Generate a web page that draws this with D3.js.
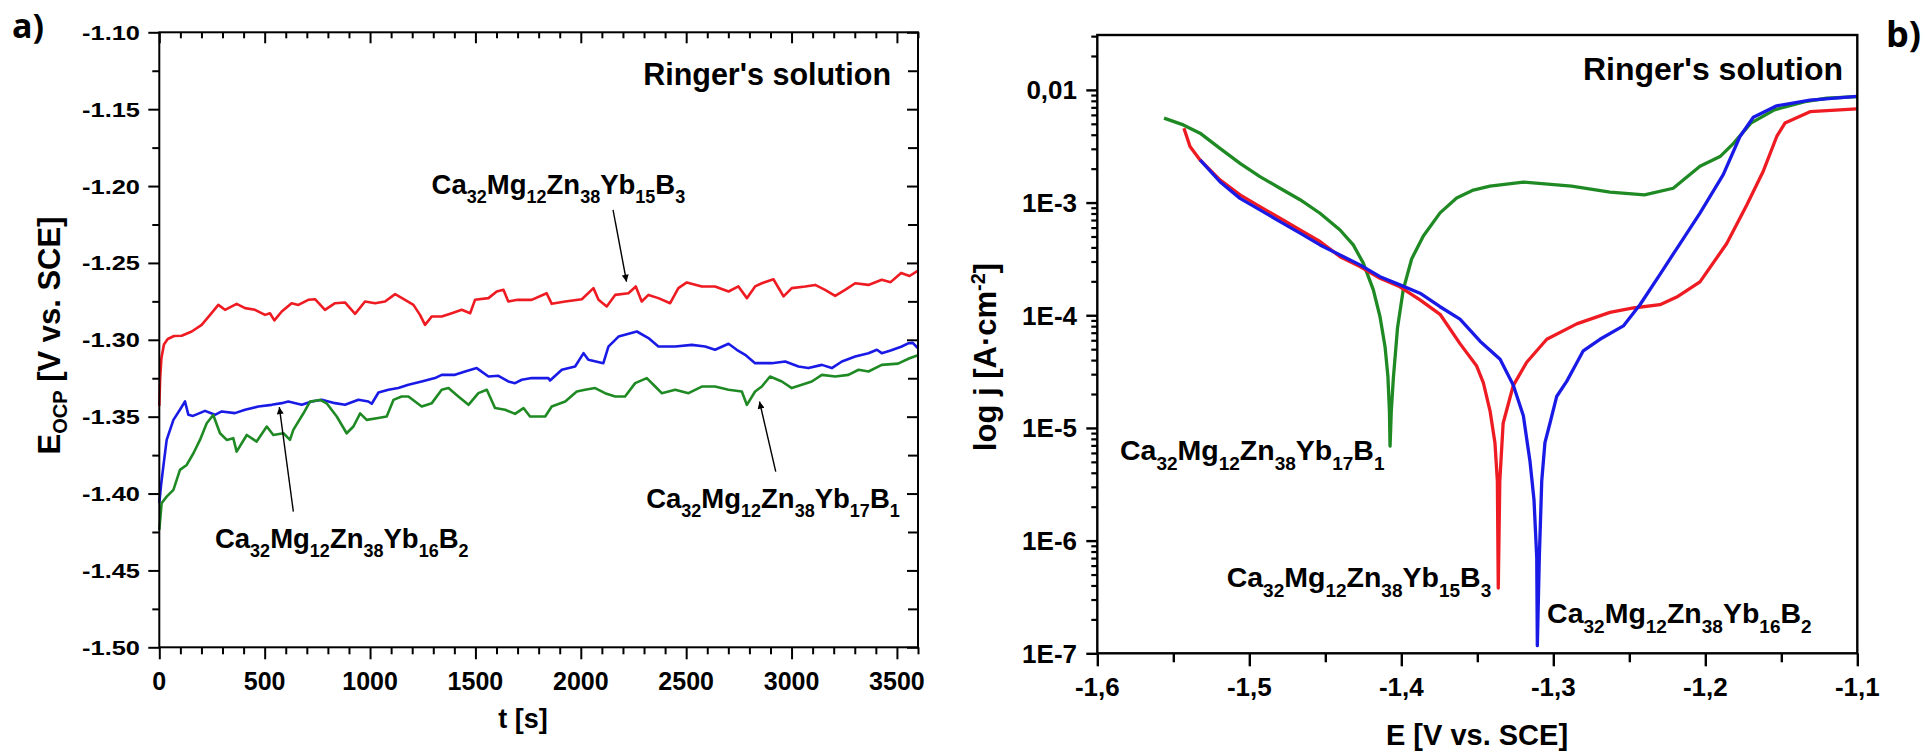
<!DOCTYPE html>
<html><head><meta charset="utf-8">
<script src="https://cdn.jsdelivr.net/npm/d3@7"></script>
<style>
body{margin:0;background:#fff;}
svg text{font-family:"Liberation Sans",Arial,sans-serif;font-weight:bold;fill:#000;}
</style></head><body>
<svg id="c" width="1931" height="752"></svg>
<script>
// ---------- Panel a: open circuit potential vs time ----------
const ocpB3 = [[0,-1.343],[4,-1.325],[10,-1.312],[22,-1.303],[40,-1.2995],[70,-1.2975],[106,-1.2974],[154,-1.2946],[201,-1.2903],[241,-1.2838],[280,-1.2773],[312,-1.2805],[367,-1.2766],[407,-1.2794],[454,-1.2805],[502,-1.2838],[525,-1.2827],[546,-1.2874],[581,-1.2816],[628,-1.2762],[660,-1.2773],[707,-1.2740],[739,-1.2736],[786,-1.2805],[834,-1.2762],[881,-1.2757],[929,-1.2831],[976,-1.2751],[1024,-1.2762],[1071,-1.2751],[1119,-1.2703],[1166,-1.2740],[1206,-1.2773],[1237,-1.2838],[1261,-1.2903],[1293,-1.2848],[1340,-1.2848],[1388,-1.2827],[1435,-1.2805],[1475,-1.2827],[1498,-1.2740],[1562,-1.2729],[1601,-1.2686],[1633,-1.2675],[1656,-1.2751],[1700,-1.2740],[1767,-1.2740],[1838,-1.2697],[1862,-1.2766],[1926,-1.2751],[2005,-1.2736],[2060,-1.2664],[2084,-1.2740],[2123,-1.2783],[2163,-1.2708],[2226,-1.2697],[2261,-1.2653],[2289,-1.2751],[2321,-1.2708],[2368,-1.2729],[2424,-1.2762],[2463,-1.2664],[2503,-1.2627],[2574,-1.2653],[2637,-1.2653],[2701,-1.2686],[2748,-1.2653],[2788,-1.2729],[2827,-1.2653],[2859,-1.2632],[2914,-1.2606],[2962,-1.2718],[3001,-1.2664],[3065,-1.2653],[3112,-1.2643],[3159,-1.2675],[3207,-1.2714],[3254,-1.2675],[3302,-1.2632],[3365,-1.2643],[3428,-1.2610],[3470,-1.2625],[3520,-1.2565],[3560,-1.2585],[3600,-1.2550]];
const ocpB2 = [[0,-1.4063],[8,-1.395],[19,-1.3825],[35,-1.3651],[67,-1.3521],[100,-1.345],[122,-1.3401],[138,-1.3488],[160,-1.3495],[217,-1.3462],[264,-1.3488],[296,-1.3466],[359,-1.3477],[407,-1.3455],[470,-1.3434],[533,-1.3423],[581,-1.3412],[612,-1.3401],[676,-1.3423],[723,-1.3401],[771,-1.3390],[834,-1.3412],[881,-1.3423],[945,-1.3390],[992,-1.3401],[1008,-1.3416],[1040,-1.3343],[1087,-1.3325],[1134,-1.3314],[1182,-1.3293],[1245,-1.3271],[1308,-1.3249],[1340,-1.3228],[1403,-1.3228],[1451,-1.3206],[1506,-1.3184],[1562,-1.3239],[1609,-1.3234],[1656,-1.3271],[1688,-1.3282],[1720,-1.3260],[1767,-1.3249],[1846,-1.3249],[1854,-1.3265],[1910,-1.3195],[1973,-1.3174],[2013,-1.3087],[2036,-1.3130],[2107,-1.3152],[2131,-1.3044],[2179,-1.2979],[2266,-1.2946],[2321,-1.2989],[2368,-1.3044],[2448,-1.3044],[2527,-1.3033],[2590,-1.3044],[2637,-1.3065],[2701,-1.3026],[2740,-1.3065],[2780,-1.3098],[2827,-1.3152],[2906,-1.3152],[2970,-1.3141],[3033,-1.3174],[3080,-1.3184],[3144,-1.3163],[3191,-1.3184],[3239,-1.3141],[3302,-1.3109],[3365,-1.3087],[3405,-1.3065],[3428,-1.3087],[3470,-1.3070],[3520,-1.3045],[3556,-1.3022],[3575,-1.3020],[3600,-1.3055]];
const ocpB1 = [[0,-1.4236],[11,-1.4063],[35,-1.4020],[67,-1.3976],[98,-1.3846],[130,-1.3814],[162,-1.3738],[193,-1.3651],[225,-1.3543],[256,-1.3489],[288,-1.3608],[320,-1.3651],[351,-1.3640],[367,-1.3727],[415,-1.3619],[462,-1.3662],[510,-1.3564],[541,-1.3619],[589,-1.3608],[620,-1.3651],[636,-1.3586],[684,-1.3478],[715,-1.3402],[763,-1.3391],[794,-1.3413],[842,-1.3499],[889,-1.3608],[921,-1.3564],[953,-1.3478],[984,-1.3521],[1032,-1.3510],[1079,-1.3499],[1111,-1.3391],[1150,-1.3369],[1182,-1.3369],[1245,-1.3434],[1293,-1.3412],[1340,-1.3325],[1372,-1.3314],[1419,-1.3369],[1467,-1.3423],[1514,-1.3347],[1554,-1.3325],[1593,-1.3444],[1641,-1.3455],[1688,-1.3482],[1728,-1.3444],[1759,-1.3499],[1831,-1.3499],[1862,-1.3434],[1926,-1.3401],[1981,-1.3336],[2020,-1.3325],[2068,-1.3314],[2115,-1.3347],[2163,-1.3369],[2210,-1.3369],[2258,-1.3282],[2313,-1.3249],[2353,-1.3304],[2384,-1.3347],[2448,-1.3325],[2511,-1.3347],[2574,-1.3304],[2637,-1.3304],[2701,-1.3325],[2764,-1.3336],[2788,-1.3423],[2827,-1.3336],[2859,-1.3304],[2898,-1.3239],[2954,-1.3271],[3001,-1.3314],[3049,-1.3293],[3096,-1.3271],[3144,-1.3228],[3207,-1.3239],[3270,-1.3228],[3318,-1.3195],[3365,-1.3206],[3428,-1.3163],[3505,-1.3155],[3560,-1.3120],[3600,-1.3100]];
const timeTicks = [0,500,1000,1500,2000,2500,3000,3500];
const ocpTicks = [-1.10,-1.15,-1.20,-1.25,-1.30,-1.35,-1.40,-1.45,-1.50];

// ---------- Panel b: polarization curves ----------
const polB1 = [[-1.5561,5.61e-3],[-1.5434,4.89e-3],[-1.5324,4.13e-3],[-1.5193,3.03e-3],[-1.5061,2.23e-3],[-1.4930,1.70e-3],[-1.4798,1.34e-3],[-1.4666,1.06e-3],[-1.4535,8.04e-4],[-1.4403,5.71e-4],[-1.4316,4.21e-4],[-1.4250,2.90e-4],[-1.4184,1.68e-4],[-1.4140,9.7e-5],[-1.4107,5.26e-5],[-1.4088,2.85e-5],[-1.4078,1.4e-5],[-1.4074,6.9e-6],[-1.4066,1.4e-5],[-1.4052,2.8e-5],[-1.4025,7.7e-5],[-1.3987,1.69e-4],[-1.3932,3.16e-4],[-1.3855,5.06e-4],[-1.3745,8.1e-4],[-1.3636,1.10e-3],[-1.3526,1.29e-3],[-1.3417,1.40e-3],[-1.3197,1.52e-3],[-1.2880,1.40e-3],[-1.2627,1.24e-3],[-1.2400,1.17e-3],[-1.2211,1.34e-3],[-1.2035,2.10e-3],[-1.1903,2.56e-3],[-1.1816,3.34e-3],[-1.1700,5.07e-3],[-1.1545,6.65e-3],[-1.1344,7.85e-3],[-1.1201,8.43e-3],[-1.1004,8.71e-3]];
const polB3 = [[-1.5430,4.57e-3],[-1.5390,3.14e-3],[-1.5324,2.39e-3],[-1.5193,1.59e-3],[-1.5061,1.17e-3],[-1.4930,9.20e-4],[-1.4798,7.26e-4],[-1.4666,5.71e-4],[-1.4535,4.51e-4],[-1.4403,3.31e-4],[-1.4272,2.70e-4],[-1.4140,2.13e-4],[-1.4009,1.79e-4],[-1.3877,1.37e-4],[-1.3745,1.02e-4],[-1.3614,5.6e-5],[-1.3504,3.54e-5],[-1.3460,2.51e-5],[-1.3416,1.41e-5],[-1.3384,7.40e-6],[-1.3368,3.39e-6],[-1.3362,3.79e-7],[-1.3352,3.39e-6],[-1.3330,1.10e-5],[-1.3263,2.39e-5],[-1.3175,3.83e-5],[-1.3043,6.12e-5],[-1.2846,8.38e-5],[-1.2627,1.06e-4],[-1.2474,1.16e-4],[-1.2298,1.24e-4],[-1.2188,1.45e-4],[-1.2035,1.98e-4],[-1.1859,4.33e-4],[-1.1728,9.46e-4],[-1.1618,1.91e-3],[-1.1530,3.86e-3],[-1.1476,5.08e-3],[-1.1311,6.41e-3],[-1.1004,6.78e-3]];
const polB2 = [[-1.5324,2.39e-3],[-1.5193,1.53e-3],[-1.5061,1.09e-3],[-1.4930,8.61e-4],[-1.4798,6.78e-4],[-1.4666,5.35e-4],[-1.4535,4.21e-4],[-1.4403,3.43e-4],[-1.4272,2.80e-4],[-1.4140,2.20e-4],[-1.4009,1.86e-4],[-1.3877,1.57e-4],[-1.3745,1.19e-4],[-1.3614,9.23e-5],[-1.3482,5.89e-5],[-1.3350,4.07e-5],[-1.3263,2.39e-5],[-1.3197,1.28e-5],[-1.3153,5.01e-6],[-1.3127,2.30e-6],[-1.3109,7.08e-7],[-1.3105,1.17e-7],[-1.3092,7.08e-7],[-1.3076,3.39e-6],[-1.3055,7.40e-6],[-1.3022,1.10e-5],[-1.2978,1.90e-5],[-1.2912,2.59e-5],[-1.2857,3.54e-5],[-1.2803,4.84e-5],[-1.2693,6.12e-5],[-1.2539,8.04e-5],[-1.2430,1.24e-4],[-1.2298,2.31e-4],[-1.2166,4.33e-4],[-1.2035,8.07e-4],[-1.1882,1.77e-3],[-1.1772,3.86e-3],[-1.1684,5.71e-3],[-1.1530,7.23e-3],[-1.1311,8.11e-3],[-1.1004,8.77e-3]];
const eTicks = [-1.6,-1.5,-1.4,-1.3,-1.2,-1.1];
const eTickLabels = ["-1,6","-1,5","-1,4","-1,3","-1,2","-1,1"];
const jTicks = [1e-7,1e-6,1e-5,1e-4,1e-3,1e-2];
const jTickLabels = ["1E-7","1E-6","1E-5","1E-4","1E-3","0,01"];

const alloyB1 = [["Ca","32"],["Mg","12"],["Zn","38"],["Yb","17"],["B","1"]];
const alloyB2 = [["Ca","32"],["Mg","12"],["Zn","38"],["Yb","16"],["B","2"]];
const alloyB3 = [["Ca","32"],["Mg","12"],["Zn","38"],["Yb","15"],["B","3"]];

const RED="#ee1b22", BLUE="#1a1ae6", GREEN="#1f8a24";

const svg = d3.select("#c");
const defs = svg.append("defs");
defs.append("marker").attr("id","ah").attr("viewBox","0 0 10 10").attr("refX",10).attr("refY",5)
  .attr("markerWidth",11).attr("markerHeight",7).attr("markerUnits","userSpaceOnUse").attr("orient","auto")
  .append("path").attr("d","M0,0L10,5L0,10Z").attr("fill","#000");

function formula(g, x, y, parts, main, sub, shift){
  const t = g.append("text").attr("x",x).attr("y",y).style("font-size",main+"px");
  parts.forEach((p,i)=>{
    t.append("tspan").text(p[0]).style("font-size",main+"px").attr("dy", i>0 ? -shift : 0);
    t.append("tspan").text(p[1]).style("font-size",sub+"px").attr("dy",shift);
  });
  return t;
}

// ======== Panel a ========
const ax = d3.scaleLinear().domain([0,3600]).range([159.3,918]);
const ay = d3.scaleLinear().domain([-1.5,-1.1]).range([647.3,32.3]);
const ga = svg.append("g");
const minorT = d3.range(0,3601,100).filter(v=>v%500!==0);
const minorE = d3.range(0,17).map(i=>-1.125-0.05*i).filter(v=>v>-1.5);
function cleanAxis(g, w){ g.select(".domain").remove(); g.selectAll("line").attr("stroke","#000").attr("stroke-width",w); g.selectAll("text").remove(); }
ga.append("g").attr("transform",`translate(0,${ay(-1.5)})`).call(d3.axisBottom(ax).tickValues(timeTicks).tickSize(12)).call(g=>cleanAxis(g,2));
ga.append("g").attr("transform",`translate(0,${ay(-1.5)})`).call(d3.axisBottom(ax).tickValues(minorT).tickSize(7)).call(g=>cleanAxis(g,2));
ga.append("g").attr("transform",`translate(0,${ay(-1.1)})`).call(d3.axisBottom(ax).tickValues(timeTicks).tickSize(11)).call(g=>cleanAxis(g,2));
ga.append("g").attr("transform",`translate(0,${ay(-1.1)})`).call(d3.axisBottom(ax).tickValues(minorT).tickSize(6)).call(g=>cleanAxis(g,2));
ga.append("g").attr("transform",`translate(${ax(0)},0)`).call(d3.axisLeft(ay).tickValues(ocpTicks).tickSize(11)).call(g=>cleanAxis(g,2));
ga.append("g").attr("transform",`translate(${ax(0)},0)`).call(d3.axisLeft(ay).tickValues(minorE).tickSize(7)).call(g=>cleanAxis(g,2));
ga.append("g").attr("transform",`translate(${ax(3600)},0)`).call(d3.axisLeft(ay).tickValues(ocpTicks).tickSize(11)).call(g=>cleanAxis(g,2));
ga.append("g").attr("transform",`translate(${ax(3600)},0)`).call(d3.axisLeft(ay).tickValues(minorE).tickSize(10)).call(g=>cleanAxis(g,2));

const lineA = d3.line().x(d=>ax(d[0])).y(d=>ay(d[1]));
[[ocpB3,RED],[ocpB2,BLUE],[ocpB1,GREEN]].forEach(([d,c])=>{
  ga.append("path").datum(d).attr("d",lineA).attr("fill","none").attr("stroke",c).attr("stroke-width",2.6).attr("stroke-linejoin","round");
});
ga.append("rect").attr("x",ax(0)).attr("y",ay(-1.1)).attr("width",ax(3600)-ax(0)).attr("height",ay(-1.5)-ay(-1.1))
  .attr("fill","none").attr("stroke","#000").attr("stroke-width",2);

timeTicks.forEach(v=>ga.append("text").attr("x",ax(v)).attr("y",690).attr("text-anchor","middle").style("font-size","25px").text(v));
ocpTicks.forEach(v=>ga.append("g").attr("transform",`translate(140,${ay(v)+7.5}) scale(1.21,1)`)
  .append("text").attr("text-anchor","end").style("font-size","21px").text(v.toFixed(2)));
ga.append("text").attr("x",523).attr("y",727.5).attr("text-anchor","middle").style("font-size","27px").text("t [s]");
const ytA = ga.append("text").attr("transform","translate(60,335.5) rotate(-90)").attr("text-anchor","middle").style("font-size","31px");
ytA.append("tspan").text("E");
ytA.append("tspan").text("OCP").style("font-size","20px").attr("dy",7);
ytA.append("tspan").text(" [V vs. SCE]").attr("dy",-7);
ga.append("text").attr("x",ax(3472)).attr("y",ay(-1.1343)).attr("text-anchor","end").style("font-size","30.5px").text("Ringer's solution");

formula(ga, ax(1292), ay(-1.2051), alloyB3, 27.5, 18, 9);
formula(ga, ax(264), ay(-1.4353), alloyB2, 27.5, 18, 9);
formula(ga, ax(2310), ay(-1.4095), alloyB1, 27.5, 18, 9);
const arrowsA = [[[2153,-1.2155],[2217,-1.2622]],[[636,-1.4117],[569.5,-1.3438]],[[2925,-1.3857],[2848,-1.3402]]];
arrowsA.forEach(a=>ga.append("line").attr("x1",ax(a[0][0])).attr("y1",ay(a[0][1])).attr("x2",ax(a[1][0])).attr("y2",ay(a[1][1]))
  .attr("stroke","#000").attr("stroke-width",1.4).attr("marker-end","url(#ah)"));
svg.append("text").attr("x",12).attr("y",38).style("font-family","'Open Sans',sans-serif").style("font-size","34px").text("a)");

// ======== Panel b ========
const bx = d3.scaleLinear().domain([-1.6,-1.1]).range([1097.3,1857.3]);
const by = d3.scaleLog().domain([1e-7,0.0307]).range([653.3,35]);
const gb = svg.append("g");
const minorJ = [];
jTicks.forEach(d=>{ for(let k=2;k<=9;k++){ if(k*d<=0.0307) minorJ.push(k*d);} });
const minorEb = [-1.55,-1.45,-1.35,-1.25,-1.15];
gb.append("g").attr("transform",`translate(${bx(-1.6)},0)`).call(d3.axisLeft(by).tickValues(jTicks).tickSize(11)).call(g=>cleanAxis(g,2.4));
gb.append("g").attr("transform",`translate(${bx(-1.6)},0)`).call(d3.axisLeft(by).tickValues(minorJ).tickSize(6)).call(g=>cleanAxis(g,2.2));
gb.append("g").attr("transform",`translate(0,${by(1e-7)})`).call(d3.axisBottom(bx).tickValues(eTicks).tickSize(13)).call(g=>cleanAxis(g,2.4));
gb.append("g").attr("transform",`translate(0,${by(1e-7)})`).call(d3.axisBottom(bx).tickValues(minorEb).tickSize(9)).call(g=>cleanAxis(g,2.4));

const lineB = d3.line().x(d=>bx(d[0])).y(d=>by(d[1]));
[[polB1,GREEN],[polB3,RED],[polB2,BLUE]].forEach(([d,c])=>{
  gb.append("path").datum(d).attr("d",lineB).attr("fill","none").attr("stroke",c).attr("stroke-width",3.3).attr("stroke-linejoin","round");
});
gb.append("rect").attr("x",bx(-1.6)).attr("y",by(0.0307)).attr("width",bx(-1.1)-bx(-1.6)).attr("height",by(1e-7)-by(0.0307))
  .attr("fill","none").attr("stroke","#000").attr("stroke-width",2.4);
eTicks.forEach((v,i)=>gb.append("text").attr("x",bx(v)).attr("y",696).attr("text-anchor","middle").style("font-size","26px").text(eTickLabels[i]));
jTicks.forEach((v,i)=>gb.append("text").attr("x",1077).attr("y",by(v)+9.3).attr("text-anchor","end").style("font-size","26px").text(jTickLabels[i]));
gb.append("text").attr("x",1477).attr("y",745).attr("text-anchor","middle").style("font-size","29px").text("E [V vs. SCE]");
const ytB = gb.append("text").attr("transform","translate(995.5,357) rotate(-90)").attr("text-anchor","middle").style("font-size","31px");
ytB.append("tspan").text("log j [A·cm");
ytB.append("tspan").text("-2").style("font-size","20px").attr("dy",-11);
ytB.append("tspan").text("]").attr("dy",11);
gb.append("text").attr("x",bx(-1.1094)).attr("y",by(0.01227)).attr("text-anchor","end").style("font-size","32px").text("Ringer's solution");
formula(gb, bx(-1.5851), by(5.2e-6), alloyB1, 28.5, 19, 10);
formula(gb, bx(-1.5149), by(3.9e-7), alloyB3, 28.5, 19, 10);
formula(gb, bx(-1.3041), by(1.86e-7), alloyB2, 28.5, 19, 10);
svg.append("text").attr("x",1886).attr("y",47).style("font-family","'Open Sans',sans-serif").style("font-size","36px").text("b)");
</script>
</body></html>
